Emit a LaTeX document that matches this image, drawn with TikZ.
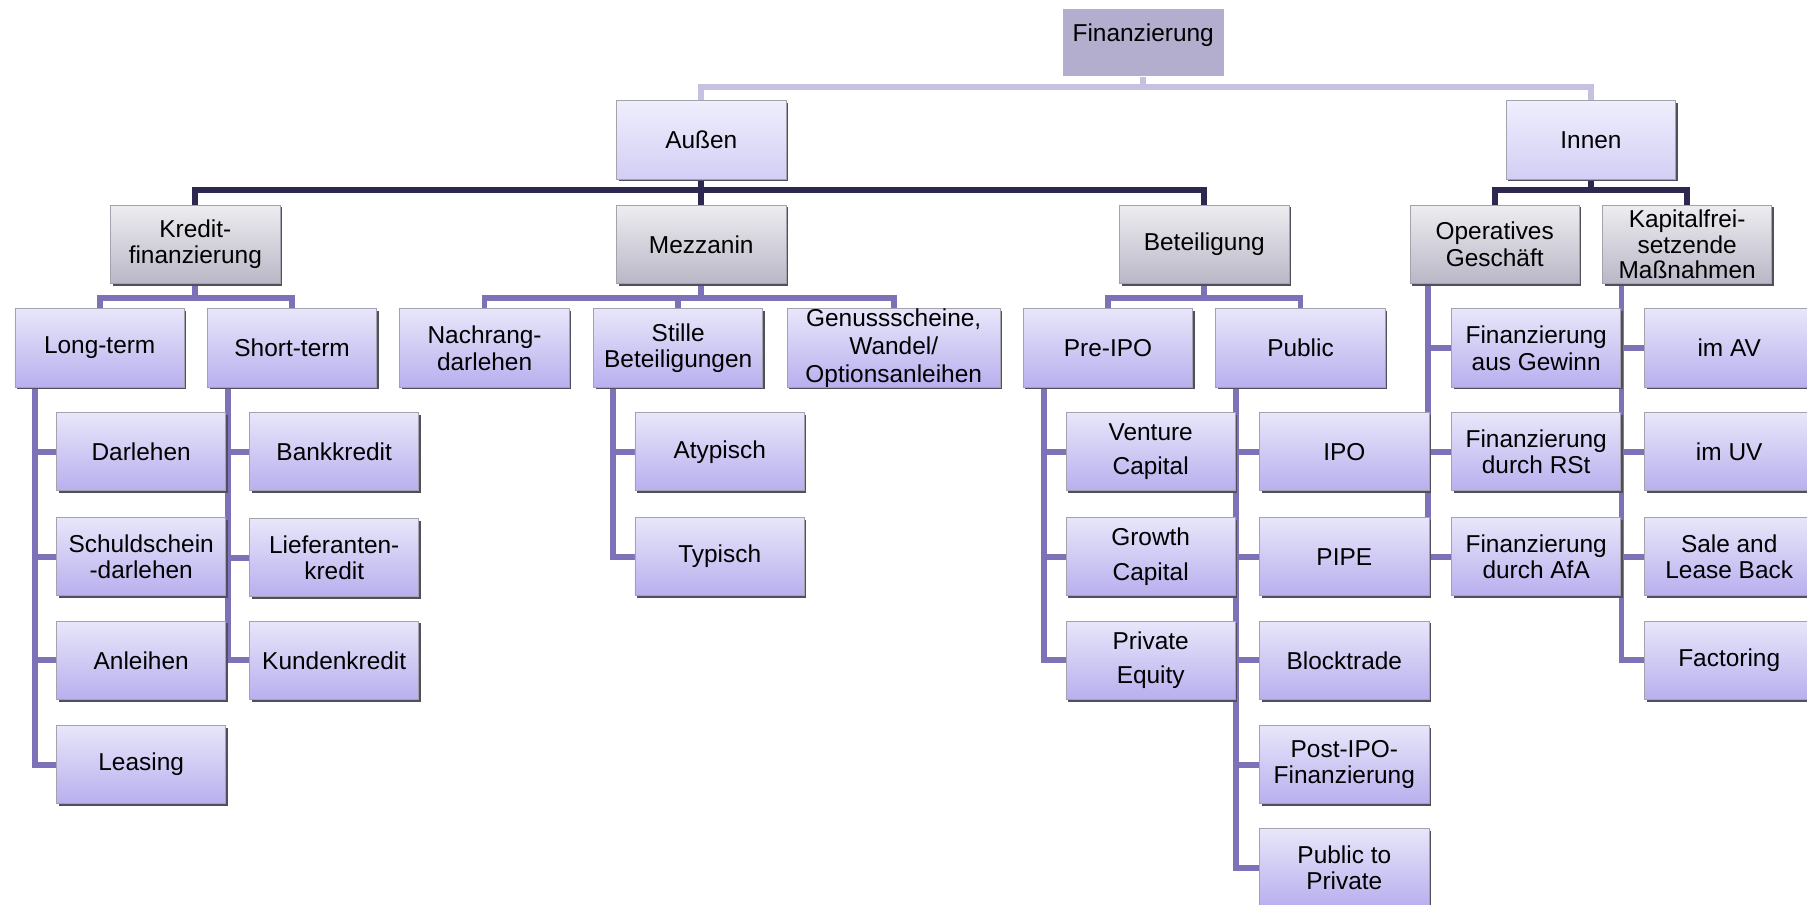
\documentclass[tikz,border=0pt]{standalone}
\usepackage{fontspec}
\setmainfont{Liberation Sans}
\usetikzlibrary{backgrounds,shadows}
\definecolor{ptop}{HTML}{E8E6FA}
\definecolor{pbot}{HTML}{B8AFEE}
\definecolor{gtop}{HTML}{EDEDF1}
\definecolor{gbot}{HTML}{B9B7C6}
\definecolor{ltop}{HTML}{EFEEFC}
\definecolor{lbot}{HTML}{D3CEF5}
\definecolor{fincol}{HTML}{B3AECD}
\definecolor{edgec}{HTML}{A3A3AD}
\definecolor{shadc}{HTML}{50505C}
\definecolor{lnlight}{HTML}{C5C1E1}
\definecolor{lndark}{HTML}{2D2850}
\definecolor{lnmid}{HTML}{7D72B8}
\begin{document}
\begin{tikzpicture}[x=0.5pt,y=-0.5pt,
  base/.style={draw=edgec, line width=0.4pt, minimum width=73.5pt, minimum height=34pt,
    inner sep=0pt, align=center, font=\fontsize{10.6}{11.5}\selectfont,
    drop shadow={shadow xshift=0.9pt, shadow yshift=-0.9pt, fill=shadc, opacity=1}},
  pbox/.style={base, top color=ptop, bottom color=pbot},
  gbox/.style={base, top color=gtop, bottom color=gbot},
  lbox/.style={base, top color=ltop, bottom color=lbot},
  wide/.style={font=\fontsize{10.6}{15}\selectfont},
  lnL/.style={draw=lnlight, line width=2.5pt},
  lnD/.style={draw=lndark, line width=2.5pt},
  lnM/.style={draw=lnmid, line width=2.5pt}]
\useasboundingbox (0,0) rectangle (1568,785);
% root
\node[fill=fincol, minimum width=70pt, minimum height=29pt, inner sep=0pt,
  font=\fontsize{10.6}{11.5}\selectfont, text depth=9pt] (fin) at (992,37) {Finanzierung};
% level 1
\node[lbox] (aus) at (608.5,121.5) {Außen};
\node[lbox] (inn) at (1380.5,121.5) {Innen};
% level 2
\node[gbox] (kre) at (169.5,212) {Kredit-\\finanzierung};
\node[gbox] (mez) at (608.5,212) {Mezzanin};
\node[gbox] (bet) at (1045,212) {Beteiligung};
\node[gbox] (ope) at (1297,212) {Operatives\\Geschäft};
\node[gbox, font=\fontsize{10.6}{11}\selectfont] (kap) at (1464,212) {Kapitalfrei-\\setzende\\Maßnahmen};
% level 3
\node[pbox] (lt) at (86.5,302) {Long-term};
\node[pbox] (st) at (253.5,302) {Short-term};
\node[pbox] (nach) at (420.5,302) {Nachrang-\\darlehen};
\node[pbox] (sti) at (588.5,302) {Stille\\Beteiligungen};
\node[pbox, minimum width=92.5pt, font=\fontsize{10.6}{12}\selectfont] (gen) at (775.5,302) {Genussscheine,\\Wandel/\\Optionsanleihen};
\node[pbox] (pre) at (961.5,302) {Pre-IPO};
\node[pbox] (pub) at (1128.5,302) {Public};
\node[pbox] (fgw) at (1333,302) {Finanzierung\\aus Gewinn};
\node[pbox] (fav) at (1500.5,302) {im AV};
% row 2
\node[pbox] (dar) at (122.5,392) {Darlehen};
\node[pbox] (bank) at (290,392) {Bankkredit};
\node[pbox] (aty) at (624.5,392) {Atypisch};
\node[pbox, wide] (vc) at (998.5,392) {Venture\\Capital};
\node[pbox] (ipo) at (1166.5,392) {IPO};
\node[pbox] (frst) at (1333,392) {Finanzierung\\durch RSt};
\node[pbox] (fuv) at (1500.5,392) {im UV};
% row 3
\node[pbox] (sch) at (122.5,483) {Schuldschein\\-darlehen};
\node[pbox] (lief) at (290,484) {Lieferanten-\\kredit};
\node[pbox] (typ) at (624.5,483) {Typisch};
\node[pbox, wide] (gc) at (998.5,483) {Growth\\Capital};
\node[pbox] (pipe) at (1166.5,483) {PIPE};
\node[pbox] (fafa) at (1333,483) {Finanzierung\\durch AfA};
\node[pbox] (slb) at (1500.5,483) {Sale and\\Lease Back};
% row 4
\node[pbox] (anl) at (122.5,573) {Anleihen};
\node[pbox] (kun) at (290,573) {Kundenkredit};
\node[pbox, wide] (pe) at (998.5,573) {Private\\Equity};
\node[pbox] (blk) at (1166.5,573) {Blocktrade};
\node[pbox] (fac) at (1500.5,573) {Factoring};
% row 5
\node[pbox] (lea) at (122.5,663.5) {Leasing};
\node[pbox] (post) at (1166.5,663.5) {Post-IPO-\\Finanzierung};
% row 6
\node[pbox] (ptp) at (1166.5,753) {Public to\\Private};
% connectors
\begin{scope}[on background layer]
\draw[lnL] (fin.south) -- ++(0,9) -| (aus.north);
\draw[lnL] (fin.south) -- ++(0,9) -| (inn.north);
\draw[lnD] (aus.south) -- ++(0,9) -| (kre.north);
\draw[lnD] (aus.south) -- ++(0,9) -| (mez.north);
\draw[lnD] (aus.south) -- ++(0,9) -| (bet.north);
\draw[lnD] (inn.south) -- ++(0,9) -| (ope.north);
\draw[lnD] (inn.south) -- ++(0,9) -| (kap.north);
\draw[lnM] (kre.south) -- ++(0,12) -| (lt.north);
\draw[lnM] (kre.south) -- ++(0,12) -| (st.north);
\draw[lnM] (mez.south) -- ++(0,12) -| (nach.north);
\draw[lnM] (mez.south) -- ++(0,12) -| (sti.north);
\draw[lnM] (mez.south) -- ++(0,12) -| (gen.north);
\draw[lnM] (bet.south) -- ++(0,12) -| (pre.north);
\draw[lnM] (bet.south) -- ++(0,12) -| (pub.north);
\foreach \c in {dar,sch,anl,lea} \draw[lnM] (lt.south west) ++(18,0) |- (\c.west);
\foreach \c in {bank,lief,kun} \draw[lnM] (st.south west) ++(18,0) |- (\c.west);
\foreach \c in {aty,typ} \draw[lnM] (sti.south west) ++(17,0) |- (\c.west);
\foreach \c in {vc,gc,pe} \draw[lnM] (pre.south west) ++(18,0) |- (\c.west);
\foreach \c in {ipo,pipe,blk,post,ptp} \draw[lnM] (pub.south west) ++(18,0) |- (\c.west);
\foreach \c in {fgw,frst,fafa} \draw[lnM] (ope.south west) ++(16,0) |- (\c.west);
\foreach \c in {fav,fuv,slb,fac} \draw[lnM] (kap.south west) ++(17,0) |- (\c.west);
\end{scope}
\end{tikzpicture}
\end{document}
